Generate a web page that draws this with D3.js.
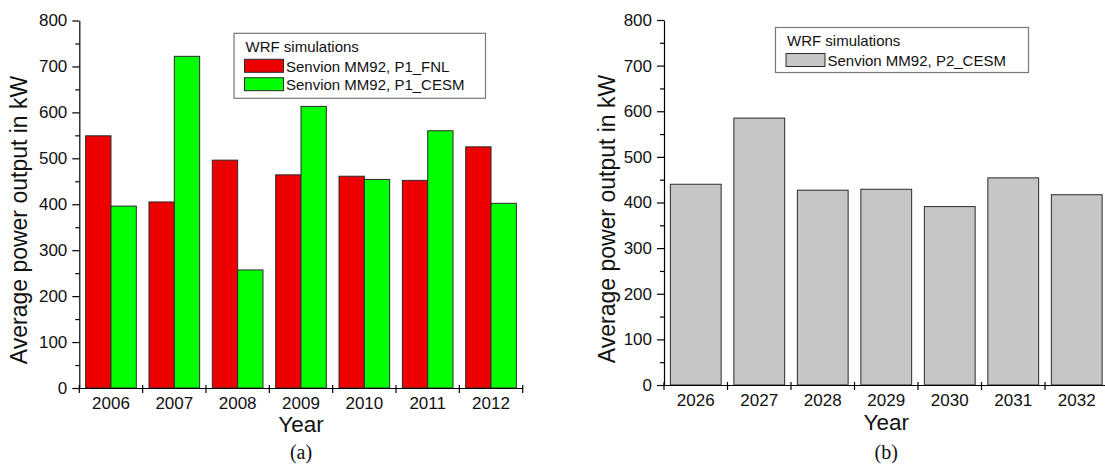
<!DOCTYPE html>
<html>
<head>
<meta charset="utf-8">
<script src="https://cdn.jsdelivr.net/npm/d3@7"></script>
<style>
  html, body { margin: 0; padding: 0; background: #fff; }
  svg { display: block; }
  text { font-family: "Liberation Sans", Arial, sans-serif; fill: #111; }
</style>
</head>
<body>
<svg id="chart" width="1105" height="464"></svg>
<script>
// Panel (a): 2006-2012, two WRF runs
const yearsA = ["2006", "2007", "2008", "2009", "2010", "2011", "2012"];
const p1Fnl  = [549, 405, 496, 464, 461, 452, 525];
const p1Cesm = [396, 722, 257, 613, 454, 560, 402];
const seriesA = ["Senvion MM92, P1_FNL", "Senvion MM92, P1_CESM"];
const colorsA = ["#ee0000", "#00ff00"];

// Panel (b): 2026-2032, projection run
const yearsB = ["2026", "2027", "2028", "2029", "2030", "2031", "2032"];
const p2Cesm = [440, 585, 427, 429, 391, 454, 417];
const seriesB = ["Senvion MM92, P2_CESM"];
const colorsB = ["#c6c6c6"];

const yMajor = [0, 100, 200, 300, 400, 500, 600, 700, 800];
const yMinor = [50, 150, 250, 350, 450, 550, 650, 750];
const legendTitle = "WRF simulations";
const yTitle = "Average power output in kW";
const xTitle = "Year";

const svg = d3.select("#chart");

function panel(cfg) {
  const g = svg.append("g");
  const x = d3.scaleBand().domain(cfg.years).range(cfg.xRange).padding(0);
  const y = d3.scaleLinear().domain([0, 800]).range(cfg.yRange);
  const bw = x.bandwidth();
  const sub = d3.scaleBand()
    .domain(d3.range(cfg.series.length))
    .range([bw * 0.1, bw * 0.9])
    .padding(0);

  // bars
  cfg.values.forEach((vals, si) => {
    g.append("g").selectAll("rect")
      .data(vals)
      .join("rect")
      .attr("x", (d, i) => x(cfg.years[i]) + sub(si))
      .attr("y", d => y(d))
      .attr("width", sub.bandwidth())
      .attr("height", d => y(0) - y(d))
      .attr("fill", cfg.colors[si])
      .attr("stroke", "#2a2a2a")
      .attr("stroke-width", 1);
  });

  // y axis: major ticks with labels, minor ticks between
  const x0 = cfg.xRange[0];
  const yAxis = g.append("g").attr("transform", `translate(${x0},0)`)
    .call(d3.axisLeft(y).tickValues(yMajor).tickSize(7).tickSizeOuter(0).tickPadding(5));
  g.append("g").attr("transform", `translate(${x0},0)`)
    .call(d3.axisLeft(y).tickValues(yMinor).tickSize(4).tickFormat("")).select(".domain").remove();
  yAxis.selectAll("text").style("font-size", "17px");

  // x axis: labels at band centers, ticks at band edges
  const xAxis = g.append("g").attr("transform", `translate(0,${y(0)})`)
    .call(d3.axisBottom(x).tickSize(0).tickPadding(9.4));
  xAxis.selectAll("text").style("font-size", "17px");
  const edges = cfg.years.map(d => x(d)).concat([x(cfg.years[cfg.years.length - 1]) + bw]);
  g.append("g").selectAll("line")
    .data(edges)
    .join("line")
    .attr("x1", d => d).attr("x2", d => d)
    .attr("y1", y(0) - 3).attr("y2", y(0) + 5)
    .attr("stroke", "#000").attr("stroke-width", 1.2);

  g.selectAll(".domain").attr("stroke", "#000").attr("stroke-width", 1.2);
  g.selectAll(".tick line").attr("stroke", "#000").attr("stroke-width", 1.2);

  // axis titles
  g.append("text")
    .attr("transform", `translate(${cfg.yTitleX},${cfg.yTitleY}) rotate(-90)`)
    .attr("text-anchor", "middle")
    .style("font-size", "23px")
    .text(yTitle);
  g.append("text")
    .attr("x", (cfg.xRange[0] + cfg.xRange[1]) / 2)
    .attr("y", cfg.xTitleY)
    .attr("text-anchor", "middle")
    .style("font-size", "22.5px")
    .text(xTitle);
  g.append("text")
    .attr("x", (cfg.xRange[0] + cfg.xRange[1]) / 2)
    .attr("y", 459)
    .attr("text-anchor", "middle")
    .style("font-family", "'Liberation Serif', 'Times New Roman', serif")
    .style("font-size", "20px")
    .text(cfg.caption);

  // legend
  const L = cfg.legend;
  const lg = g.append("g").attr("transform", `translate(${L.x},${L.y})`);
  lg.append("rect")
    .attr("width", L.w).attr("height", L.h)
    .attr("fill", "#fff").attr("stroke", "#777").attr("stroke-width", 1.2);
  lg.append("text").attr("x", 11.5).attr("y", 18.5)
    .style("font-size", "15px").text(legendTitle);
  cfg.series.forEach((name, i) => {
    const ry = 26 + i * 18.4;
    lg.append("rect")
      .attr("x", 10.5).attr("y", ry)
      .attr("width", 39).attr("height", 13)
      .attr("fill", cfg.colors[i]).attr("stroke", "#2a2a2a").attr("stroke-width", 1);
    lg.append("text").attr("x", 52).attr("y", ry + 12.3)
      .style("font-size", "15px").text(name);
  });
}

panel({
  years: yearsA, values: [p1Fnl, p1Cesm], series: seriesA, colors: colorsA,
  xRange: [79.3, 522.7], yRange: [388, 20.5],
  yTitleX: 27, yTitleY: 220, xTitleY: 431.5, caption: "(a)",
  legend: { x: 234, y: 33.3, w: 251.5, h: 65 }
});

panel({
  years: yearsB, values: [p2Cesm], series: seriesB, colors: colorsB,
  xRange: [664, 1108.5], yRange: [385, 20],
  yTitleX: 615, yTitleY: 219, xTitleY: 430, caption: "(b)",
  legend: { x: 775.5, y: 27.5, w: 253, h: 45 }
});
</script>
</body>
</html>
